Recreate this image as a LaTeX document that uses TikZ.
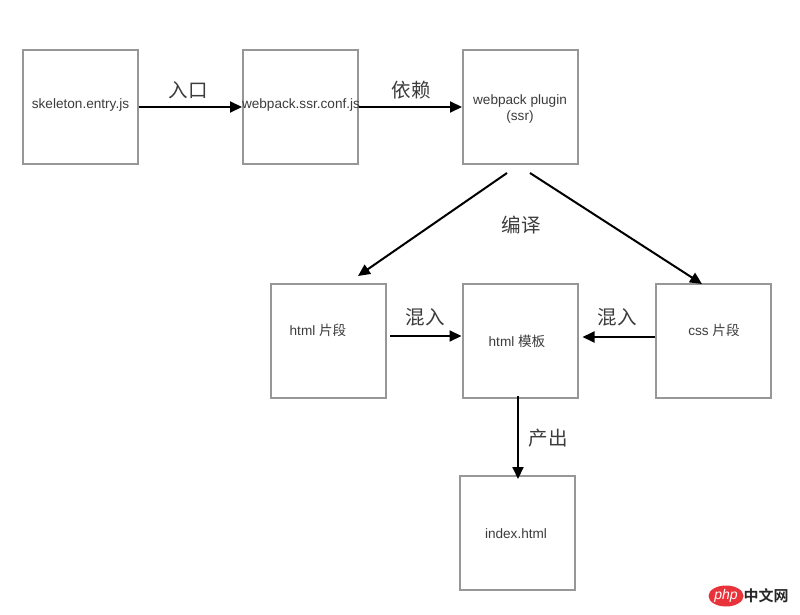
\documentclass[tikz,border=0pt]{standalone}
\usepackage{fontspec}
\setmainfont{Liberation Sans}
\newfontfamily\cjk{Noto Sans CJK SC}
\newfontfamily\cjkbold{Noto Sans CJK SC Bold}
\usetikzlibrary{arrows.meta,shapes.geometric}
\definecolor{boxgray}{HTML}{979797}
\definecolor{txtgray}{HTML}{3C3C3C}
\definecolor{phpred}{HTML}{E8333A}
\begin{document}
\begin{tikzpicture}[x=1pt,y=-1pt,
  box/.style={draw=boxgray, line width=2pt, minimum width=115pt, minimum height=114pt, inner sep=0pt, fill=white},
  boxtext/.style={text=txtgray, font=\fontsize{13.6}{16}\selectfont, align=center, inner sep=0pt},
  lbl/.style={text=txtgray, font=\cjk\fontsize{19.5}{21}\selectfont, inner sep=0pt},
  arr/.style={line width=2pt, -{Triangle[length=12pt,width=11pt]}}
]
\useasboundingbox (0,0) rectangle (800,615);
\fill[white] (0,0) rectangle (800,615);

% boxes
\node[box] (b1) at (80.5,107) {};
\node[box] (b2) at (300.5,107) {};
\node[box] (b3) at (520.5,107) {};
\node[box] (hf) at (328.5,340.5) {};
\node[box] (hm) at (520,340.5) {};
\node[box] (cs) at (713,340.5) {};
\node[box] (ix) at (517.5,532.5) {};

% box texts
\node[boxtext] (t1) at (80.5,105) {skeleton.entry.js};
\node[boxtext] (t2) at (301,105) {webpack.ssr.conf.js};
\node[boxtext] (t3) at (520,109) {webpack plugin\\(ssr)};
\node[boxtext] (thf) at (318,330) {html {\cjk 片段}};
\node[boxtext] (thm) at (517,341) {html {\cjk 模板}};
\node[boxtext] (tcs) at (714,330) {css {\cjk 片段}};
\node[boxtext] (tix) at (516,534) {index.html};

% connectors
\draw[arr] (b1.east) -- (b2.west);
\draw[arr] (b2.east) -- (b3.west);
\coordinate (s1) at (507,173);
\coordinate (s2) at (530,173);
\coordinate (e1) at (358,276);
\coordinate (e2) at (702,284);
\draw[arr] (s1) -- (e1);
\draw[arr] (s2) -- (e2);
\draw[arr] ([xshift=3pt,yshift=4.5pt]hf.east) -- ([yshift=4.5pt]hm.west);
\draw[arr] ([yshift=3.5pt]cs.west) -- ([xshift=4pt,yshift=3.5pt]hm.east);
\coordinate (d1) at (518,396);
\coordinate (d2) at (518,479);
\draw[arr] (d1) -- (d2);

% labels
\node[lbl] (l1) at (188,90) {入口};
\node[lbl] (l2) at (411,90) {依赖};
\node[lbl] (l3) at (521,225) {编译};
\node[lbl] (l4) at (425,317) {混入};
\node[lbl] (l5) at (617,317) {混入};
\node[lbl] (l6) at (548,438) {产出};

% watermark
\node[ellipse, fill=phpred, minimum width=35pt, minimum height=21pt, inner sep=0pt, text=white, font=\itshape\fontsize{14}{14}\selectfont] (wm1) at (726,596) {php};
\node[text=black!85, font=\cjkbold\fontsize{15}{15}\selectfont, inner sep=0pt] (wm2) at (766,596) {中文网};
\end{tikzpicture}
\end{document}
